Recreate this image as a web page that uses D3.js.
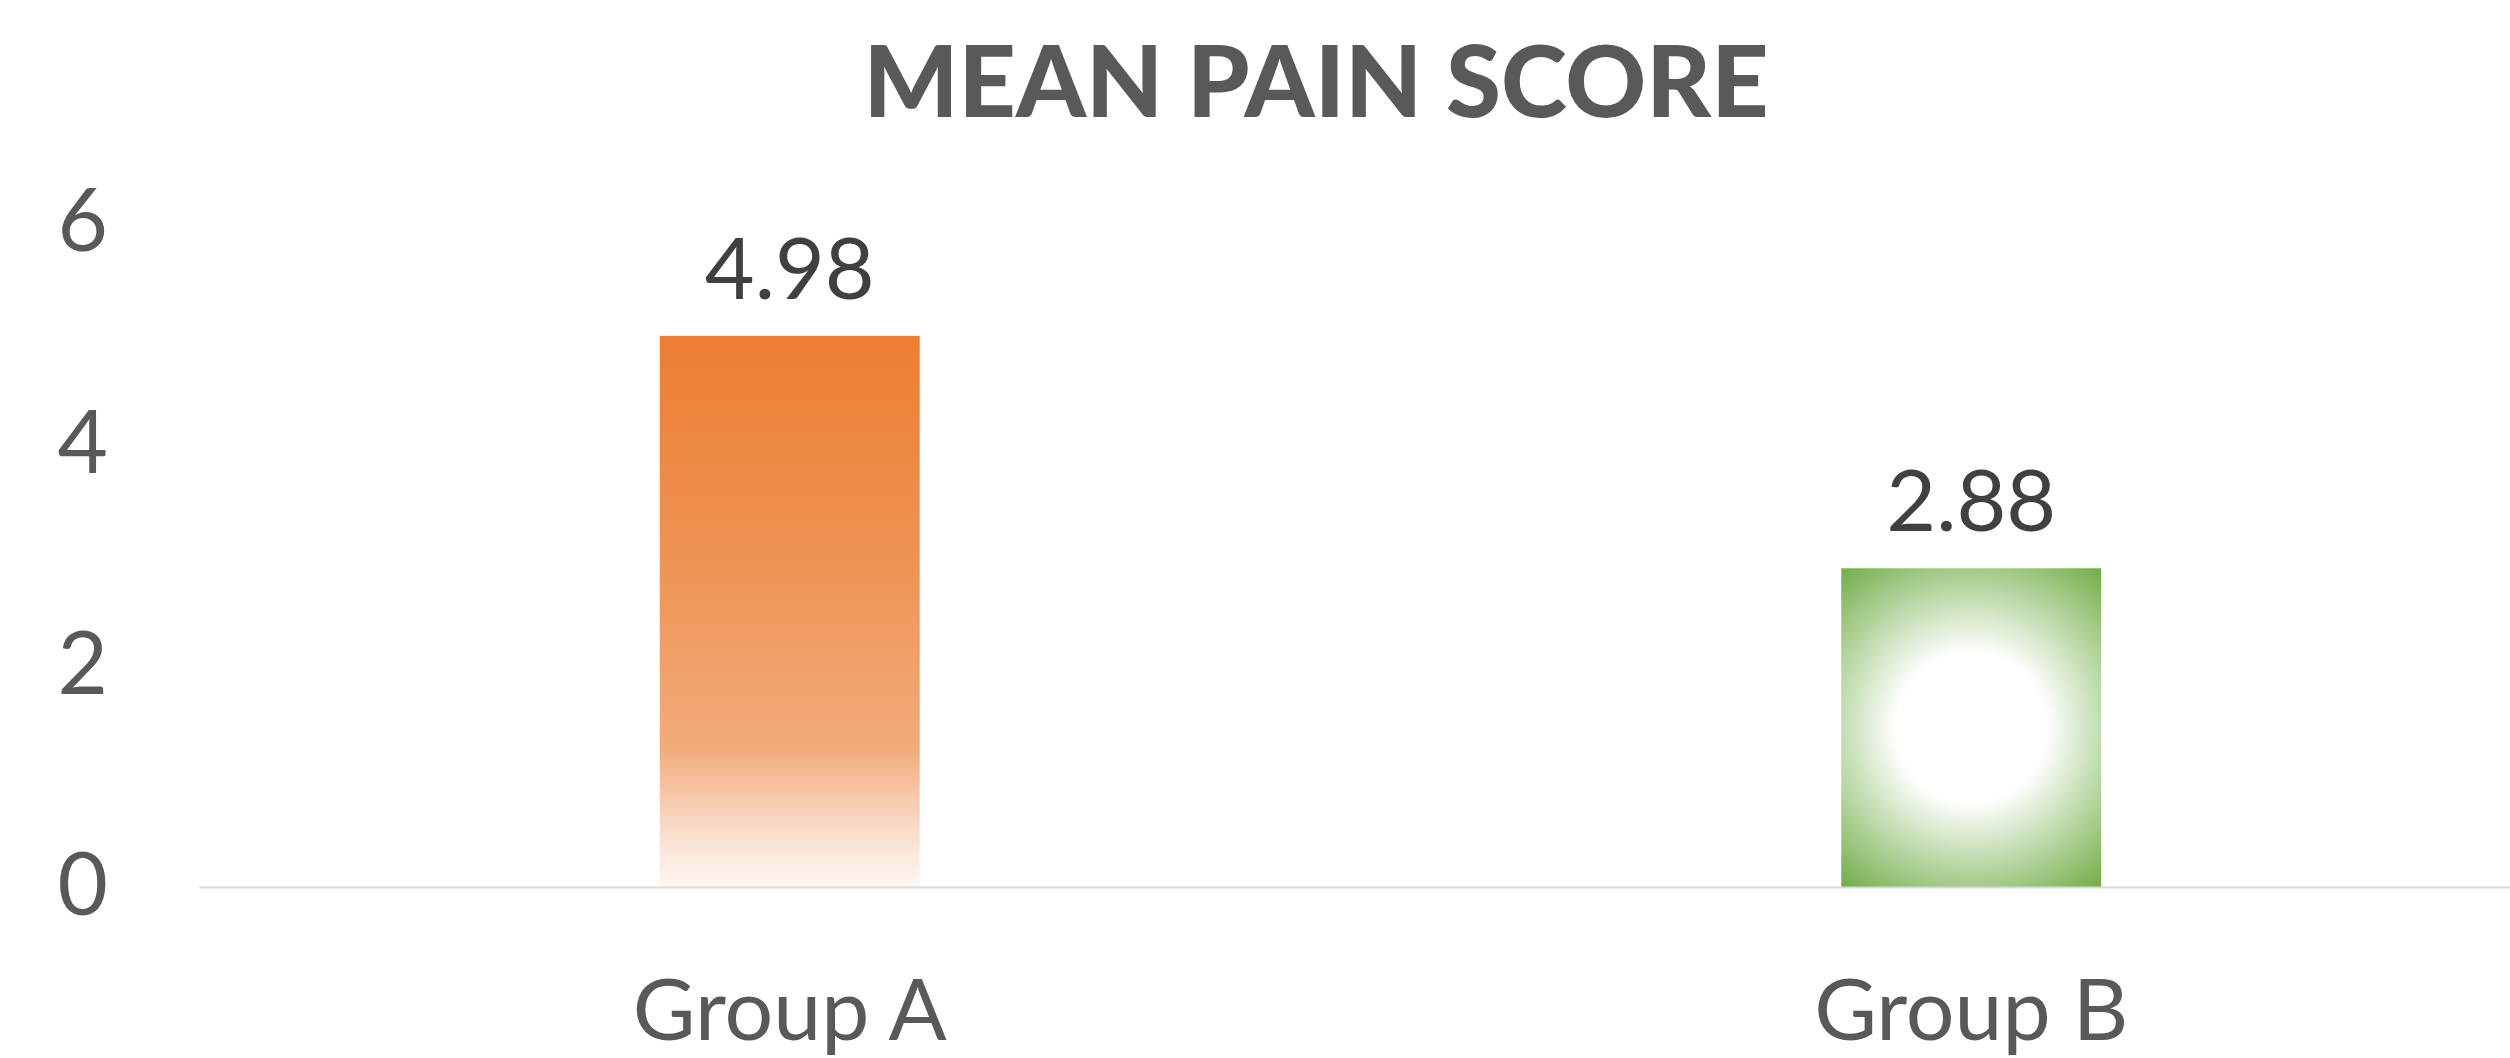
<!DOCTYPE html>
<html>
<head>
<meta charset="utf-8">
<script src="https://cdn.jsdelivr.net/npm/d3@7"></script>
<style>
  html, body { margin: 0; padding: 0; background: #fff; }
  svg { display: block; }
</style>
</head>
<body>
<div class="chart"></div>
<script>
// data
var groups = ["Group A", "Group B"];
var meanPain = [4.98, 2.88];
var yTicks = [0, 2, 4, 6];
var chartTitle = "MEAN PAIN SCORE";

var width = 2510, height = 1058;
var font = "Lato, 'Open Sans', sans-serif";

var svg = d3.select(".chart").append("svg")
    .attr("width", width)
    .attr("height", height);

var defs = svg.append("defs");

var x = d3.scaleBand()
    .domain(groups)
    .range([199, 2562])
    .paddingInner(0.78)
    .paddingOuter(0.39);

var y = d3.scaleLinear()
    .domain([0, 6])
    .range([887, 223]);

// orange bar: linear fade to white at the bottom
var gradA = defs.append("linearGradient")
    .attr("id", "gradA")
    .attr("x1", 0).attr("y1", 0)
    .attr("x2", 0).attr("y2", 1);
gradA.append("stop").attr("offset", "0%").attr("stop-color", "#ED7D31");
gradA.append("stop").attr("offset", "45%").attr("stop-color", "#EF9658");
gradA.append("stop").attr("offset", "75%").attr("stop-color", "#F2AB7B");
gradA.append("stop").attr("offset", "84%").attr("stop-color", "#F6CBAC");
gradA.append("stop").attr("offset", "92%").attr("stop-color", "#FAE3D4");
gradA.append("stop").attr("offset", "100%").attr("stop-color", "#FDF7F3");

// green bar: radial, white in the middle
var bx = x("Group B"), bw = x.bandwidth();
var by = y(meanPain[1]), bh = y(0) - y(meanPain[1]);
var gradB = defs.append("radialGradient")
    .attr("id", "gradB")
    .attr("gradientUnits", "userSpaceOnUse")
    .attr("cx", bx + bw / 2)
    .attr("cy", by + bh / 2)
    .attr("r", Math.sqrt(bw * bw + bh * bh) / 2);
gradB.append("stop").attr("offset", "0%").attr("stop-color", "#FFFFFF");
gradB.append("stop").attr("offset", "36%").attr("stop-color", "#FFFFFF");
gradB.append("stop").attr("offset", "100%").attr("stop-color", "#70AD47");

var fills = ["url(#gradA)", "url(#gradB)"];

// title
svg.append("text")
    .attr("x", 1316)
    .attr("y", 117)
    .attr("text-anchor", "middle")
    .attr("textLength", 905)
    .attr("lengthAdjust", "spacingAndGlyphs")
    .style("font-family", font)
    .style("font-weight", 900)
    .style("font-size", "100px")
    .style("fill", "#595959")
    .text(chartTitle);

// y axis labels only
var yAxis = svg.append("g")
    .attr("transform", "translate(199,0)")
    .call(d3.axisLeft(y).tickValues(yTicks).tickFormat(d3.format("d"))
        .tickSize(0).tickPadding(91));
yAxis.select(".domain").remove();
yAxis.selectAll("text")
    .style("font-family", font)
    .style("font-size", "87px")
    .style("fill", "#595959");

// bars
svg.selectAll("rect.bar")
    .data(meanPain)
    .enter()
    .append("rect")
    .attr("class", "bar")
    .attr("x", function (d, i) { return x(groups[i]); })
    .attr("y", function (d) { return y(d); })
    .attr("width", x.bandwidth())
    .attr("height", function (d) { return y(0) - y(d); })
    .style("fill", function (d, i) { return fills[i]; });

// value labels
svg.selectAll("text.val")
    .data(meanPain)
    .enter()
    .append("text")
    .attr("class", "val")
    .attr("x", function (d, i) { return x(groups[i]) + x.bandwidth() / 2; })
    .attr("y", function (d) { return y(d) - 37; })
    .attr("text-anchor", "middle")
    .style("font-family", font)
    .style("font-size", "86px")
    .style("fill", "#404040")
    .text(function (d) { return d.toFixed(2); });

// x axis: baseline and group names
var xAxis = svg.append("g")
    .attr("transform", "translate(0," + y(0) + ")")
    .call(d3.axisBottom(x).tickSize(0).tickSizeOuter(0));
xAxis.select(".domain")
    .attr("stroke", "#D9D9D9")
    .attr("stroke-width", 2);
xAxis.selectAll("text")
    .attr("y", 153)
    .attr("dy", null)
    .style("font-family", font)
    .style("font-size", "86px")
    .style("fill", "#595959");
</script>
</body>
</html>
